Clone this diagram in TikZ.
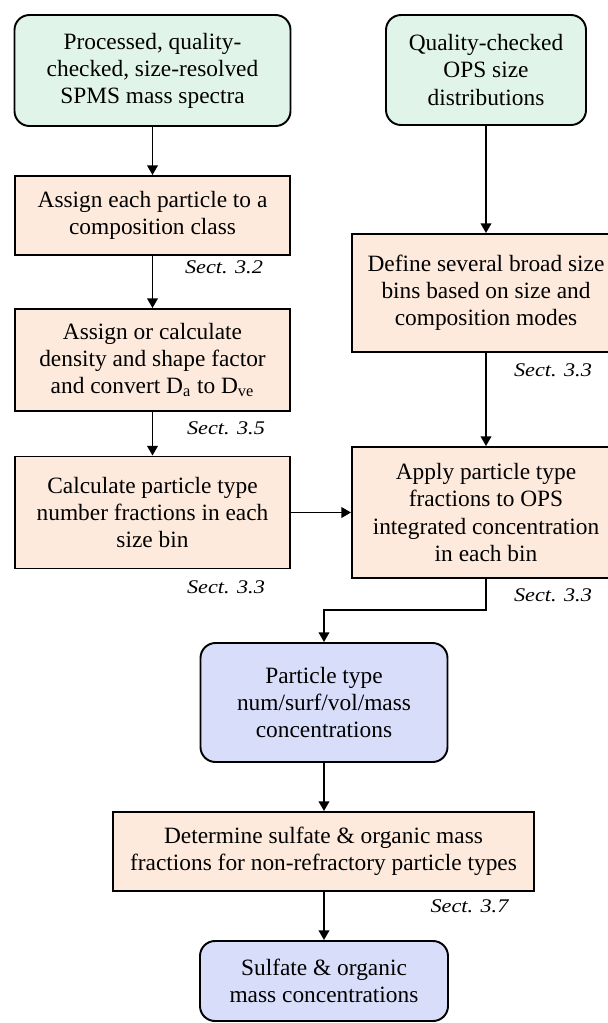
\documentclass[tikz,border=0pt]{standalone}
\usepackage{fontspec}
\setmainfont{Liberation Serif}
\newfontfamily\sectfont[FakeStretch=1.15]{Liberation Serif Italic}
\usepackage{tikz}
\usetikzlibrary{positioning, arrows.meta, calc, shapes}

\definecolor{inputGreen}{RGB}{225,244,233}
\definecolor{stepPeach}{RGB}{253,234,220}
\definecolor{outputBlue}{RGB}{216,221,250}

\tikzset{
	boxtext/.style={font=\fontsize{13.3}{15.4}\selectfont, align=center, inner sep=0pt, line width=1.1pt, draw},
	inputbox/.style={boxtext, rounded corners=0.3cm, fill=inputGreen},
	stepbox/.style={boxtext, fill=stepPeach},
	outputbox/.style={boxtext, rounded corners=0.3cm, fill=outputBlue},
	flow/.style={-{Triangle[length=5.5pt,width=6pt]}, line width=1.1pt},
	sectlabel/.style={font=\sectfont\fontsize{11}{13}\selectfont}
}

\begin{document}
\begin{tikzpicture}
		
		%Page frame, the right column is cut at the edge
		\useasboundingbox (0,0) rectangle (12.16,-20.46);
		\clip (0,0) rectangle (12.16,-20.46);
		
		%Input data
		\node (procSpectra) at (3.05,-1.41) [inputbox, minimum width=5.52cm, minimum height=2.22cm]{Processed, quality-\\checked, size-resolved\\SPMS mass spectra};
		\node (opsDist) at (9.72,-1.40) [inputbox, minimum width=4.0cm, minimum height=2.2cm]{Quality-checked\\OPS size\\distributions};
		
		%Left column steps
		\node (assignClass) at (3.05,-4.31) [stepbox, minimum width=5.5cm, minimum height=1.58cm]{Assign each particle to a\\composition class};
		\node (assignDensity) at (3.05,-7.20) [stepbox, minimum width=5.5cm, minimum height=2.04cm]{Assign or calculate\\density and shape factor\\and convert D\textsubscript{a} to D\textsubscript{ve}};
		\node (calcFractions) at (3.05,-10.25) [stepbox, minimum width=5.5cm, minimum height=2.24cm]{Calculate particle type\\number fractions in each\\size bin};
		
		%Right column steps
		\node (defineBins) at (9.72,-5.86) [stepbox, minimum width=5.36cm, minimum height=2.36cm]{Define several broad size\\bins based on size and\\composition modes};
		\node (applyFractions) at (9.72,-10.25) [stepbox, minimum width=5.36cm, minimum height=2.62cm]{Apply particle type\\fractions to OPS\\integrated concentration\\in each bin};
		
		%Outputs
		\node (typeConc) at (6.48,-14.05) [outputbox, minimum width=4.94cm, minimum height=2.38cm]{Particle type\\num/surf/vol/mass\\concentrations};
		\node (massFractions) at (6.47,-17.03) [stepbox, minimum width=8.42cm, minimum height=1.58cm]{Determine sulfate \& organic mass\\fractions for non-refractory particle types};
		\node (sulfateConc) at (6.48,-19.62) [outputbox, minimum width=4.96cm, minimum height=1.6cm]{Sulfate \& organic\\mass concentrations};
		
		%Arrows
		\draw[flow] (procSpectra) -- (assignClass);
		\draw[flow] (assignClass) -- (assignDensity);
		\draw[flow] (assignDensity) -- (calcFractions);
		\draw[flow] (opsDist) -- (defineBins);
		\draw[flow] (defineBins) -- (applyFractions);
		\draw[flow] (calcFractions.east) -- (applyFractions.west);
		
		%Elbow down to the outputs
		\coordinate (elbowTurn) at (9.72,-12.20);
		\draw[flow] (applyFractions.south) -- (elbowTurn) -| (typeConc.north);
		\draw[flow] (typeConc) -- (massFractions.north -| typeConc);
		\draw[flow] (massFractions.south -| typeConc) -- (sulfateConc);
		
		%Section references
		\node (sectClass) at (4.48,-5.34) [sectlabel]{Sect. 3.2};
		\node (sectDensity) at (4.52,-8.56) [sectlabel]{Sect. 3.5};
		\node (sectNumber) at (4.52,-11.74) [sectlabel]{Sect. 3.3};
		\node (sectBins) at (11.06,-7.40) [sectlabel]{Sect. 3.3};
		\node (sectApply) at (11.06,-11.90) [sectlabel]{Sect. 3.3};
		\node (sectMass) at (9.39,-18.12) [sectlabel]{Sect. 3.7};
		
\end{tikzpicture}
\end{document}
